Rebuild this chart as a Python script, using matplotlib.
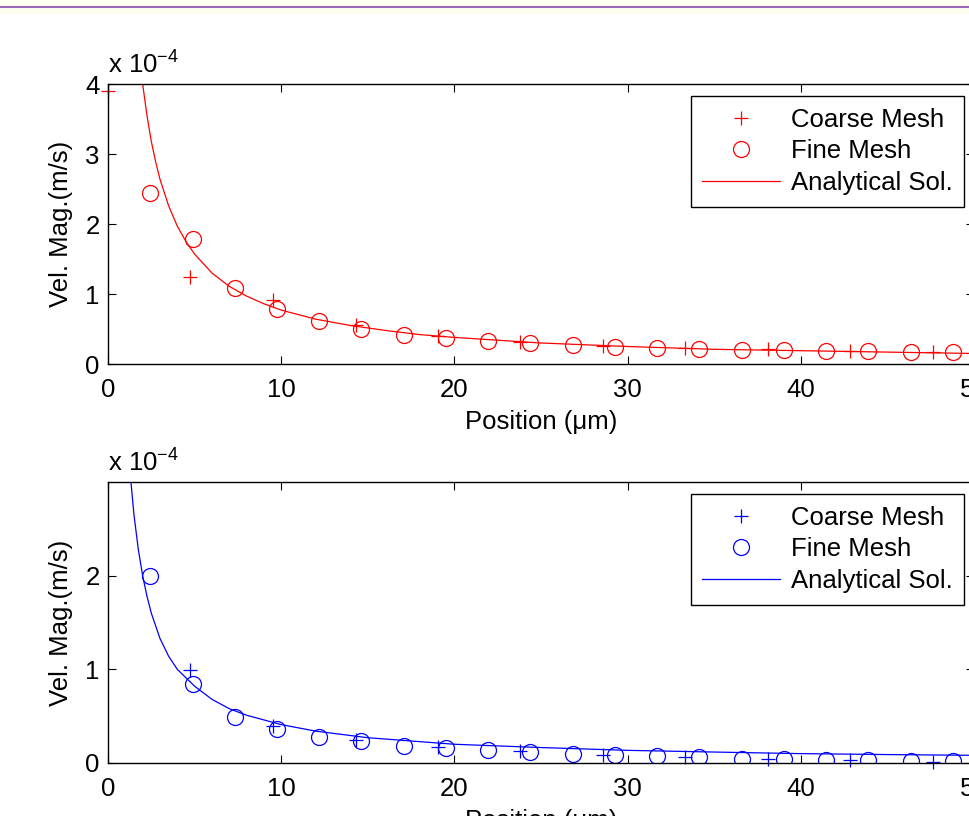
import matplotlib
matplotlib.use("Agg")
import matplotlib.pyplot as plt
from matplotlib.patches import Rectangle
from matplotlib.lines import Line2D

plt.rcParams["font.family"] = ["Liberation Sans", "DejaVu Sans"]
plt.rcParams["mathtext.fontset"] = "custom"
plt.rcParams["mathtext.rm"] = "Liberation Sans"
FS = 18.5
plt.rcParams["font.size"] = FS

# positions along the channel (um)
coarse_x = [0, 4.76, 9.52, 14.29, 19.05, 23.81, 28.57, 33.33, 38.10, 42.86, 47.62]
fine_x = [2.44, 4.88, 7.32, 9.76, 12.20, 14.63, 17.07, 19.51, 21.95, 24.39,
          26.83, 29.27, 31.71, 34.15, 36.59, 39.02, 41.46, 43.90, 46.34, 48.78]

# velocity magnitudes, in units of 1e-4 m/s
top_coarse = [3.90, 1.25, 0.92, 0.56, 0.40, 0.32, 0.26, 0.23, 0.21, 0.19, 0.175]
top_fine = [2.45, 1.78, 1.09, 0.79, 0.61, 0.50, 0.42, 0.37, 0.33, 0.30,
            0.27, 0.25, 0.235, 0.215, 0.205, 0.195, 0.19, 0.18, 0.175, 0.17]
top_ana_x = [1.8, 1.9, 2.0, 2.25, 2.5, 2.75, 3.0, 3.5, 4.0, 4.5, 5, 6, 7, 8, 9,
             10, 12, 14, 16, 18, 20, 25, 30, 35, 40, 45, 50]
top_ana_v = [4.45, 4.22, 4.0, 3.55, 3.18, 2.89, 2.64, 2.26, 1.97, 1.75, 1.57,
             1.30, 1.11, 0.97, 0.86, 0.77, 0.64, 0.55, 0.48, 0.42, 0.38, 0.30,
             0.25, 0.21, 0.19, 0.17, 0.15]

bot_coarse_x = coarse_x[1:]
bot_coarse = [0.99, 0.39, 0.245, 0.167, 0.13, 0.085, 0.067, 0.045, 0.03, 0.015]
bot_fine = [2.0, 0.84, 0.49, 0.36, 0.28, 0.23, 0.18, 0.155, 0.14, 0.12,
            0.10, 0.085, 0.075, 0.06, 0.045, 0.04, 0.03, 0.03, 0.025, 0.025]
bot_ana_x = [1.2, 1.3, 1.4, 1.5, 1.75, 2.0, 2.25, 2.5, 3.0, 3.5, 4.0, 5, 6, 7,
             8, 10, 12, 15, 20, 25, 30, 35, 40, 45, 50]
bot_ana_v = [3.3, 3.05, 2.85, 2.65, 2.28, 2.0, 1.78, 1.6, 1.33, 1.14, 1.0, 0.82,
             0.68, 0.58, 0.51, 0.41, 0.34, 0.27, 0.2, 0.165, 0.135, 0.117, 0.10,
             0.09, 0.082]

W, H = 969, 816
fig = plt.figure(figsize=(W / 100, H / 100), dpi=100)
fig.patch.set_facecolor("white")

# header strip with a thin rule
fig.patches.append(Rectangle((0, 1 - 15 / H), 1, 15 / H, transform=fig.transFigure,
                             facecolor="#fffdf0", edgecolor="none", zorder=0))
fig.lines.append(Line2D([0, 1], [1 - 7.3 / H] * 2, transform=fig.transFigure,
                        color="#9a66b8", lw=1.5))


def panel(rect, color, cx, cv, fx, fv, ax_x, ax_v, ymax, yticks):
    ax = fig.add_axes(rect)
    ax.plot(cx, cv, "+", color=color, ms=10.5, mew=0.9, clip_on=False,
            label="Coarse Mesh")
    ax.plot(fx, fv, "o", color=color, mfc="none", ms=11.5, mew=0.9,
            label="Fine Mesh")
    ax.plot(ax_x, ax_v, "-", color=color, lw=0.9, label="Analytical Sol.")
    ax.set_xlim(0, 50)
    ax.set_ylim(0, ymax)
    ax.set_xticks([0, 10, 20, 30, 40, 50])
    ax.set_yticks(yticks)
    ax.tick_params(direction="in", top=True, right=True, length=6, width=0.8,
                   labelsize=FS)
    ax.tick_params(axis="x", pad=10)
    ax.tick_params(axis="y", pad=6)
    for s in ax.spines.values():
        s.set_linewidth(1.0)
    ax.set_xlabel("Position (μm)", fontsize=FS, labelpad=6)
    ax.set_ylabel("Vel. Mag.(m/s)", fontsize=FS, labelpad=9)
    ax.text(0, 1.022, r"x 10$^{\mathregular{-4}}$", transform=ax.transAxes,
            fontsize=FS, ha="left", va="bottom")
    leg = ax.legend(loc="upper right", bbox_to_anchor=(0.9885, 0.957),
                    borderaxespad=0, fancybox=False, framealpha=1,
                    edgecolor="black", fontsize=FS, handlelength=3.05,
                    handletextpad=0.4, labelspacing=0.3, borderpad=0.45)
    leg.get_frame().set_linewidth(1.0)
    return ax


x0 = 108 / W
wd = 866 / W
panel([x0, 1 - 364 / H, wd, 280 / H], "#ff0000", coarse_x, top_coarse,
      fine_x, top_fine, top_ana_x, top_ana_v, 4, [0, 1, 2, 3, 4])
panel([x0, 1 - 763 / H, wd, 281 / H], "#0000ff", bot_coarse_x, bot_coarse,
      fine_x, bot_fine, bot_ana_x, bot_ana_v, 3, [0, 1, 2])

fig.savefig("out.png", dpi=100)
